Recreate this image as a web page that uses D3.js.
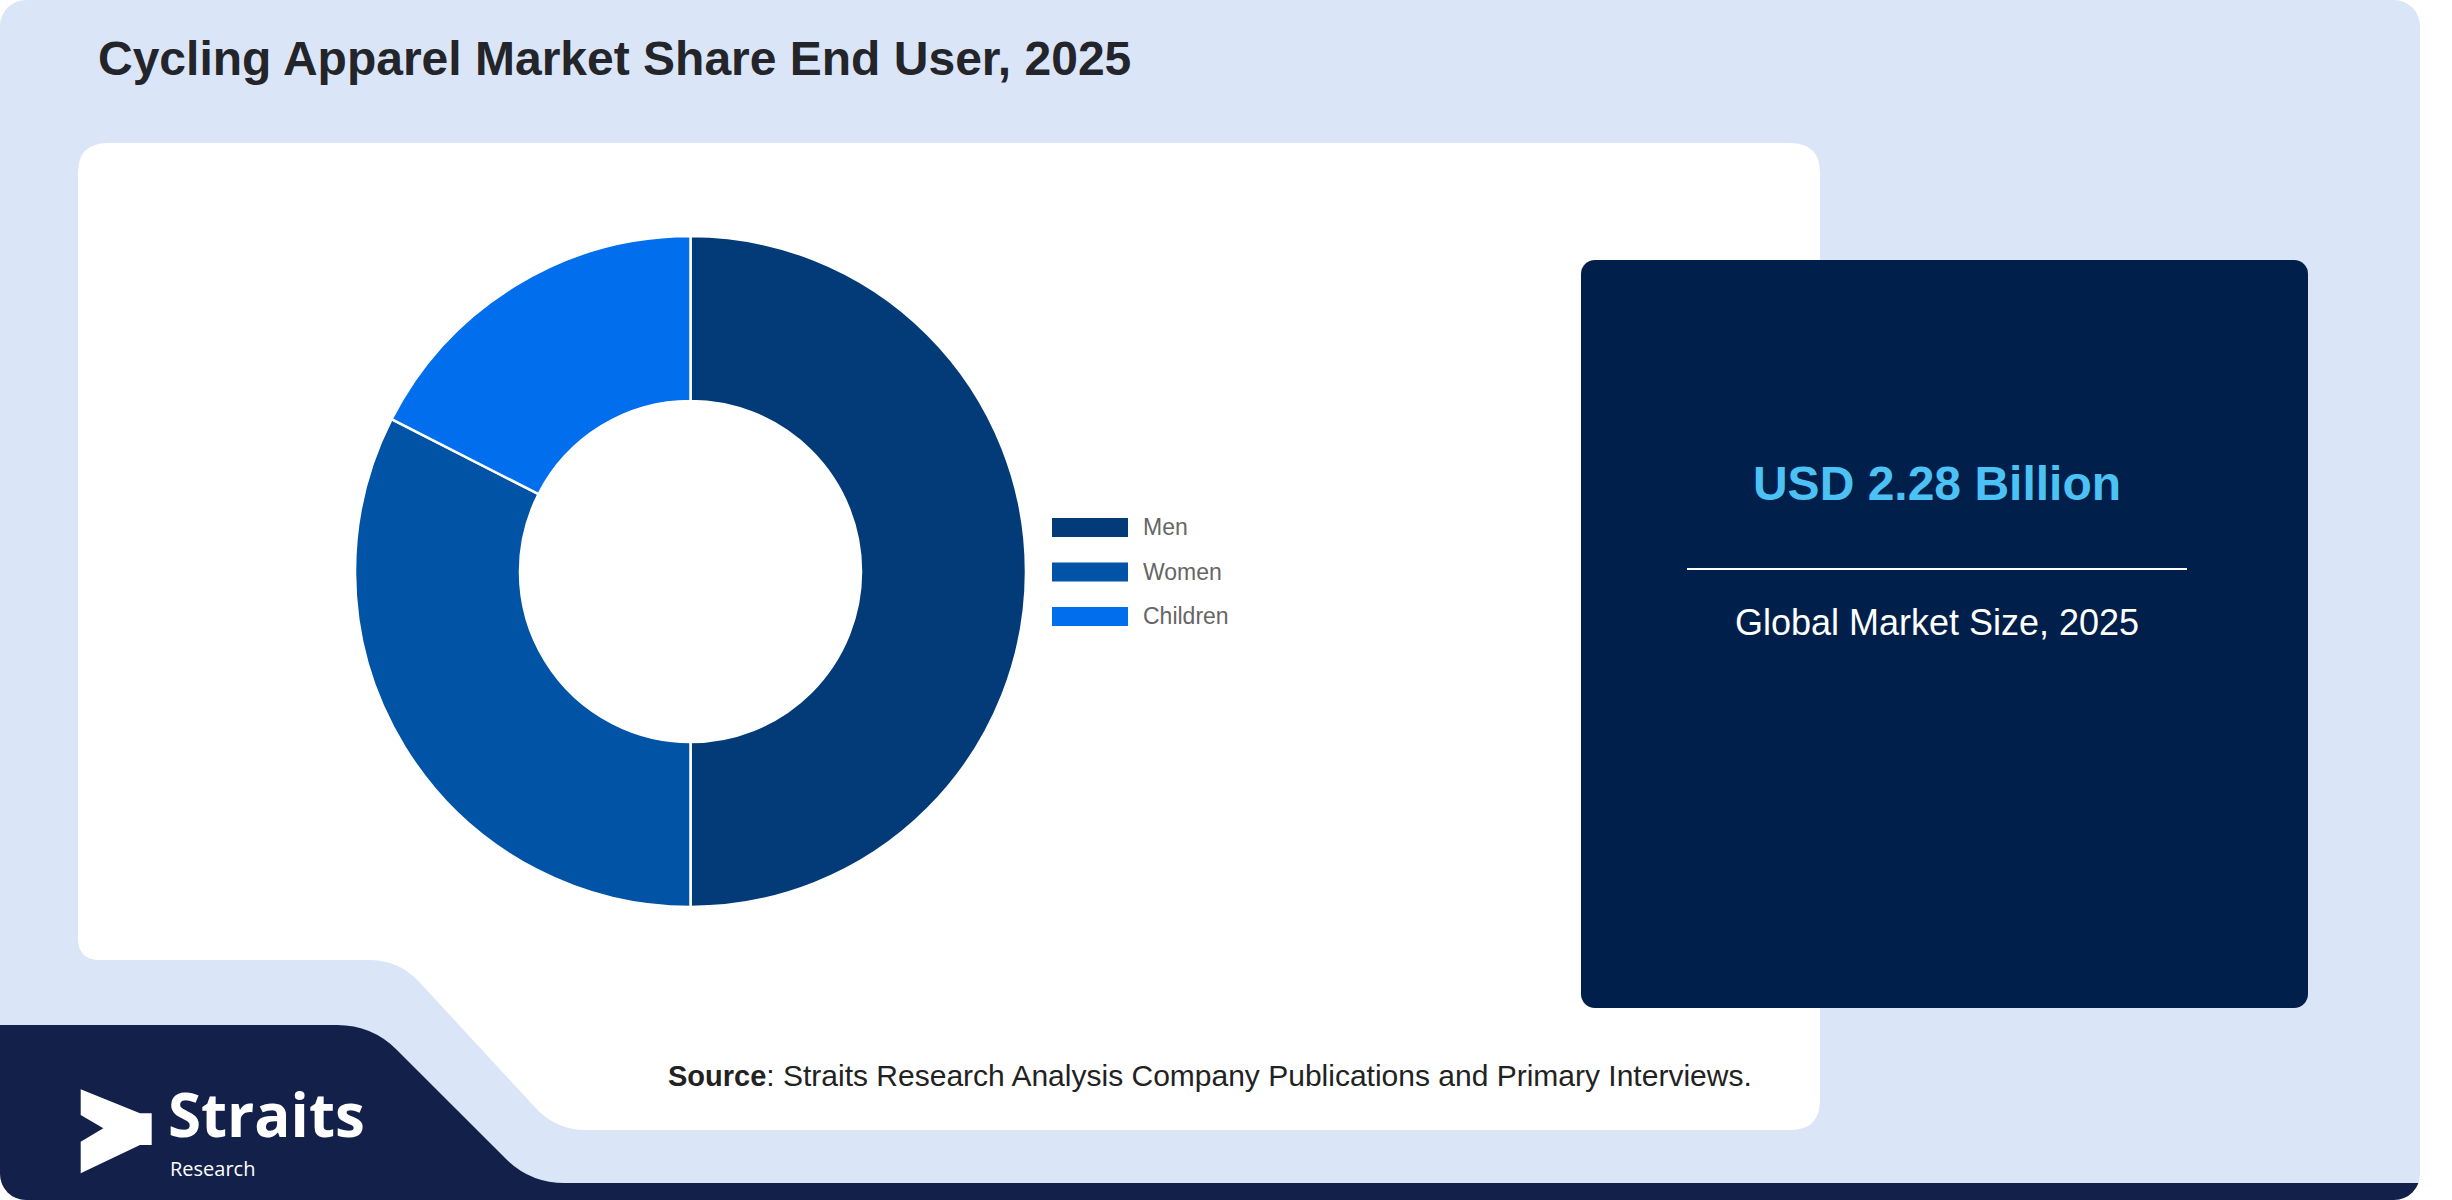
<!DOCTYPE html>
<html>
<head>
<meta charset="utf-8">
<script src="https://cdn.jsdelivr.net/npm/d3@7"></script>
<style>
  body { margin: 0; background: #ffffff; }
  svg { display: block; }
</style>
</head>
<body>
<div id="chart"></div>
<script>
// chart data
const categories = ["Men", "Women", "Children"];
const shares = [50, 32.5, 17.5];
const sliceColors = ["#023b78", "#0153a6", "#006eed"];

const titleText = "Cycling Apparel Market Share End User, 2025";
const marketValue = "USD 2.28 Billion";
const marketLabel = "Global Market Size, 2025";
const sourceBold = "Source";
const sourceRest = ": Straits Research Analysis Company Publications and Primary Interviews.";

const W = 2452, H = 1200;
const sans = "'Liberation Sans', Arial, Helvetica, sans-serif";

const svg = d3.select("#chart")
    .append("svg")
    .attr("width", W)
    .attr("height", H);

// background card
const defs = svg.append("defs");
defs.append("clipPath").attr("id", "cardClip")
    .append("rect")
    .attr("x", 0).attr("y", 0)
    .attr("width", 2420).attr("height", H)
    .attr("rx", 26);

const card = svg.append("g").attr("clip-path", "url(#cardClip)");
card.append("rect")
    .attr("x", 0).attr("y", 0)
    .attr("width", 2420).attr("height", H)
    .attr("fill", "#dae6f8");

// dark band at the bottom
card.append("path")
    .attr("d", "M0,1025 H337 Q372,1025 396.7,1049.7 L505.3,1158.3 Q530,1183 565,1183 H2420 V1200 H0 Z")
    .attr("fill", "#13204a");

// white chart panel with the notch
card.append("path")
    .attr("d", "M108,143 H1790 Q1820,143 1820,173 V1100 Q1820,1130 1790,1130 H586 Q556,1130 535.7,1108 L419.3,982 Q399,960 369,960 H100 Q78,960 78,938 V173 Q78,143 108,143 Z")
    .attr("fill", "#ffffff");

// title
svg.append("text")
    .attr("x", 98)
    .attr("y", 75)
    .style("font-family", sans)
    .style("font-weight", "bold")
    .style("font-size", "48px")
    .attr("fill", "#23252a")
    .text(titleText);

// donut
const cx = 690.5, cy = 571.5, outerR = 335.5, innerR = 170.5;
const color = d3.scaleOrdinal().domain(categories).range(sliceColors);
const pie = d3.pie().sort(null).value(d => d.value);
const arc = d3.arc().innerRadius(innerR).outerRadius(outerR);
const pieData = pie(categories.map((c, i) => ({ name: c, value: shares[i] })));

const donut = svg.append("g")
    .attr("transform", "translate(" + cx + "," + cy + ")");
donut.selectAll("path")
    .data(pieData)
    .enter()
    .append("path")
    .attr("d", arc)
    .attr("fill", d => color(d.data.name))
    .attr("stroke", "#ffffff")
    .attr("stroke-width", 2.5);

// legend
const legend = svg.append("g").attr("transform", "translate(1052,518)");
const legendY = d3.scalePoint().domain(categories).range([0, 89]);
const items = legend.selectAll("g")
    .data(categories)
    .enter()
    .append("g")
    .attr("transform", d => "translate(0," + legendY(d) + ")");
items.append("rect")
    .attr("width", 76)
    .attr("height", 19)
    .attr("fill", d => color(d));
items.append("text")
    .attr("x", 91)
    .attr("y", 17)
    .style("font-family", sans)
    .style("font-size", "23px")
    .attr("fill", "#666666")
    .text(d => d);

// market size panel
svg.append("rect")
    .attr("x", 1581).attr("y", 260)
    .attr("width", 727).attr("height", 748)
    .attr("rx", 14)
    .attr("fill", "#001f4a");

svg.append("text")
    .attr("x", 1937)
    .attr("y", 500)
    .attr("text-anchor", "middle")
    .style("font-family", sans)
    .style("font-weight", "bold")
    .style("font-size", "48px")
    .attr("fill", "#4cc2f4")
    .text(marketValue);

svg.append("line")
    .attr("x1", 1687).attr("x2", 2187)
    .attr("y1", 569).attr("y2", 569)
    .attr("stroke", "#ffffff")
    .attr("stroke-width", 2);

svg.append("text")
    .attr("x", 1937)
    .attr("y", 635)
    .attr("text-anchor", "middle")
    .style("font-family", sans)
    .style("font-size", "36px")
    .attr("fill", "#ffffff")
    .text(marketLabel);

// source note
const src = svg.append("text")
    .attr("x", 668)
    .attr("y", 1086)
    .style("font-family", sans)
    .style("font-size", "30px")
    .attr("fill", "#222222");
src.append("tspan").style("font-weight", "bold").style("font-size", "29px").text(sourceBold);
src.append("tspan").text(sourceRest);

// logo: arrow mark + wordmark
const logo = svg.append("g");
logo.append("path")
    .attr("d", "M80.7,1089.3 L140,1113.3 H151.7 V1145 H140 L80.7,1173.3 V1141.7 L103.3,1128.3 L80.7,1115 Z")
    .attr("fill", "#ffffff");
logo.append("text")
    .attr("x", 168)
    .attr("y", 1137)
    .style("font-family", "'Open Sans', sans-serif")
    .style("font-weight", "bold")
    .style("font-size", "60px")
    .attr("fill", "#ffffff")
    .text("Straits");
logo.append("text")
    .attr("x", 170)
    .attr("y", 1176)
    .style("font-family", "'Open Sans', sans-serif")
    .style("font-size", "20px")
    .attr("fill", "#ffffff")
    .text("Research");
</script>
</body>
</html>
